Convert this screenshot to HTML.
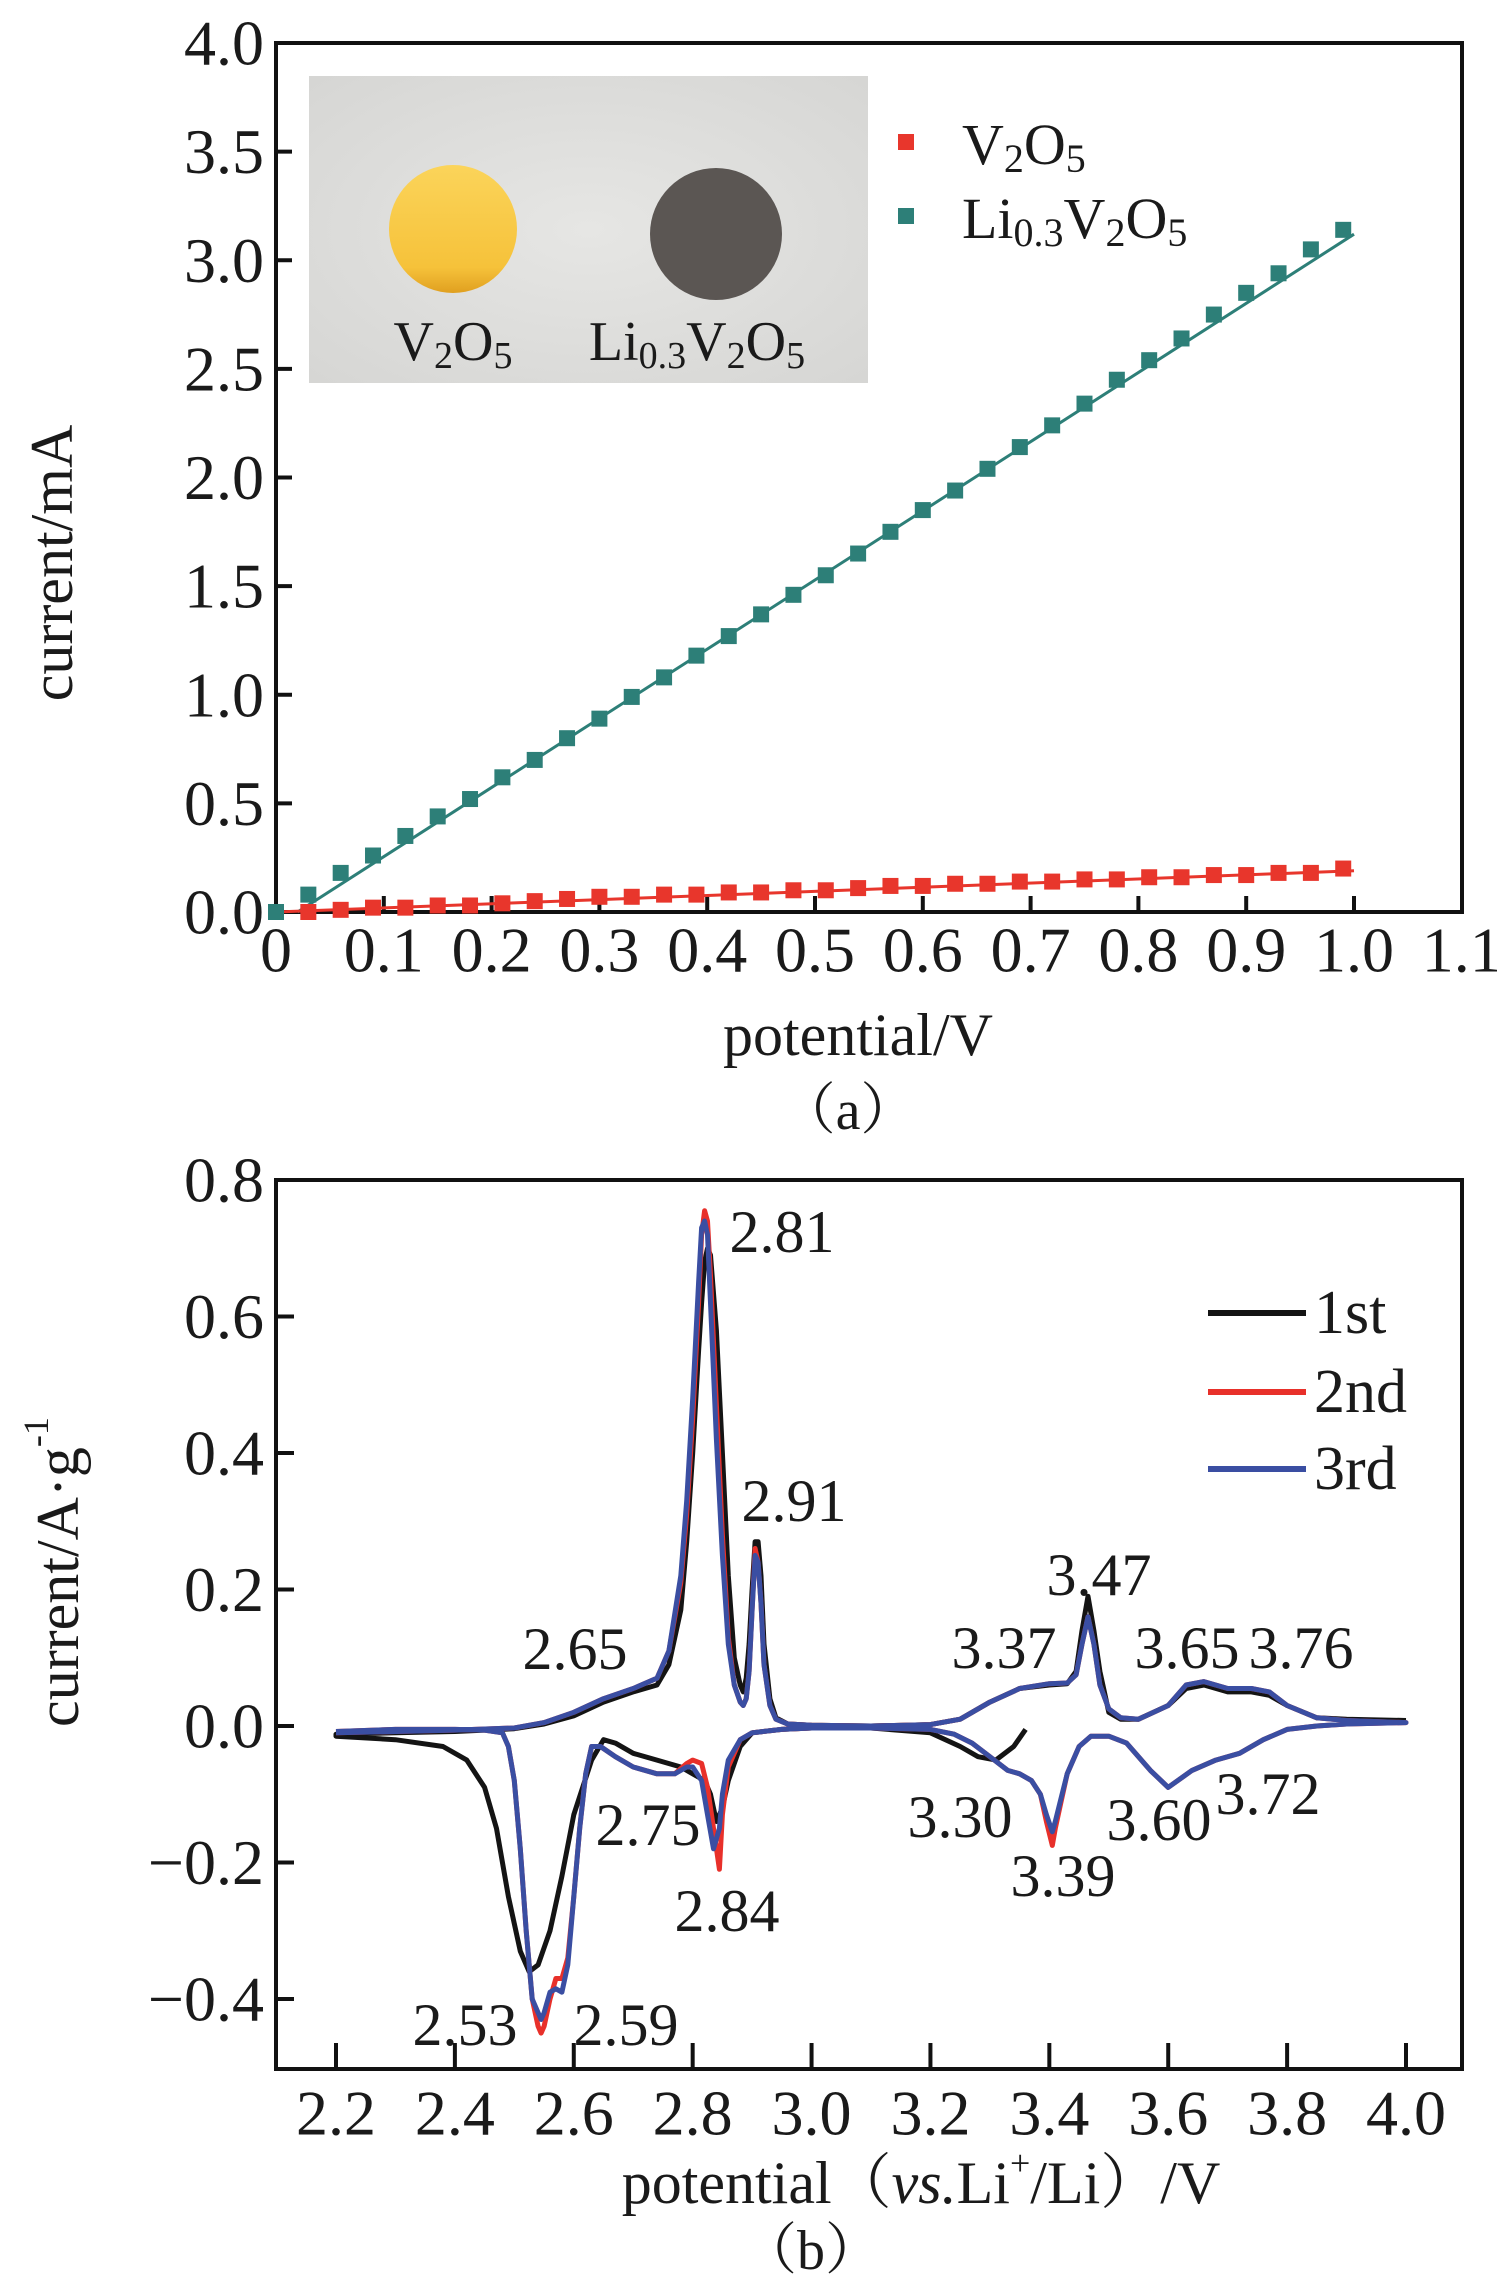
<!DOCTYPE html>
<html><head><meta charset="utf-8">
<style>
html,body{margin:0;padding:0;background:#fff;}
svg{display:block;font-family:"Liberation Serif","Noto Serif CJK SC",serif;}
</style></head>
<body>
<svg id="fig" width="1497" height="2286" viewBox="0 0 1497 2286" xmlns="http://www.w3.org/2000/svg">
  <rect width="1497" height="2286" fill="#fff"/>
  <g id="panelA"></g>
  <g id="panelB"></g>
</svg>
<script>
// ---------- Panel (a) data ----------
const aPotential = [0,0.03,0.06,0.09,0.12,0.15,0.18,0.21,0.24,0.27,0.30,0.33,0.36,0.39,0.42,0.45,0.48,0.51,0.54,0.57,0.60,0.63,0.66,0.69,0.72,0.75,0.78,0.81,0.84,0.87,0.90,0.93,0.96,0.99];
const aLiV2O5 = [0.0,0.08,0.18,0.26,0.35,0.44,0.52,0.62,0.70,0.80,0.89,0.99,1.08,1.18,1.27,1.37,1.46,1.55,1.65,1.75,1.85,1.94,2.04,2.14,2.24,2.34,2.45,2.54,2.64,2.75,2.85,2.94,3.05,3.14];
const aV2O5 = [0.0,0.0,0.01,0.02,0.02,0.03,0.03,0.04,0.05,0.06,0.07,0.07,0.08,0.08,0.09,0.09,0.10,0.10,0.11,0.12,0.12,0.13,0.13,0.14,0.14,0.15,0.15,0.16,0.16,0.17,0.17,0.18,0.18,0.20];
const aFitLi = [[0.02,0.0],[1.0,3.12]];
const aFitV = [[0.0,0.0],[1.0,0.19]];
const aXTicks = [0,0.1,0.2,0.3,0.4,0.5,0.6,0.7,0.8,0.9,1.0,1.1];
const aXTickLabels = ["0","0.1","0.2","0.3","0.4","0.5","0.6","0.7","0.8","0.9","1.0","1.1"];
const aYTicks = [0,0.5,1.0,1.5,2.0,2.5,3.0,3.5,4.0];
const aYTickLabels = ["0.0","0.5","1.0","1.5","2.0","2.5","3.0","3.5","4.0"];

// ---------- Panel (b) data ----------
const bAnX = [2.2,2.3,2.4,2.5,2.55,2.6,2.65,2.7,2.74,2.76,2.78,2.79,2.80,2.81,2.815,2.82,2.825,2.83,2.84,2.85,2.86,2.87,2.88,2.885,2.89,2.895,2.90,2.905,2.91,2.915,2.92,2.93,2.94,2.96,3.0,3.1,3.2,3.25,3.3,3.35,3.4,3.43,3.445,3.455,3.465,3.475,3.485,3.5,3.52,3.55,3.6,3.63,3.66,3.7,3.74,3.77,3.8,3.85,3.9,4.0];
const bAn3rd = [-0.01,-0.008,-0.006,-0.003,0.005,0.02,0.04,0.055,0.07,0.11,0.22,0.33,0.48,0.65,0.73,0.74,0.72,0.62,0.42,0.25,0.12,0.06,0.035,0.03,0.04,0.08,0.17,0.25,0.24,0.18,0.09,0.03,0.01,0.003,0.001,0.0,0.002,0.01,0.035,0.055,0.062,0.063,0.075,0.12,0.16,0.12,0.06,0.025,0.012,0.01,0.03,0.06,0.065,0.055,0.055,0.05,0.03,0.012,0.008,0.005];
const bAn2nd = [-0.01,-0.008,-0.006,-0.003,0.005,0.02,0.04,0.055,0.07,0.11,0.21,0.31,0.45,0.62,0.72,0.755,0.74,0.66,0.47,0.28,0.13,0.06,0.035,0.03,0.04,0.08,0.17,0.26,0.24,0.18,0.09,0.03,0.01,0.003,0.001,0.0,0.002,0.01,0.035,0.055,0.062,0.063,0.075,0.12,0.16,0.12,0.06,0.025,0.012,0.01,0.03,0.06,0.065,0.055,0.055,0.05,0.03,0.012,0.008,0.005];
const bAn1st = [-0.012,-0.01,-0.008,-0.004,0.003,0.015,0.035,0.05,0.06,0.09,0.17,0.27,0.40,0.55,0.62,0.68,0.70,0.69,0.58,0.40,0.22,0.10,0.06,0.05,0.07,0.12,0.20,0.27,0.27,0.22,0.12,0.04,0.012,0.003,0.001,0.0,0.002,0.01,0.035,0.055,0.06,0.062,0.08,0.14,0.19,0.14,0.08,0.02,0.01,0.01,0.03,0.055,0.06,0.05,0.05,0.045,0.03,0.012,0.01,0.008];
const bCaX = [4.0,3.9,3.85,3.8,3.76,3.72,3.68,3.64,3.6,3.57,3.53,3.5,3.47,3.45,3.43,3.42,3.41,3.405,3.395,3.385,3.37,3.35,3.33,3.3,3.27,3.24,3.2,3.1,3.0,2.95,2.9,2.88,2.86,2.85,2.845,2.835,2.825,2.815,2.8,2.79,2.77,2.74,2.7,2.67,2.645,2.63,2.62,2.61,2.60,2.59,2.58,2.57,2.56,2.55,2.545,2.54,2.53,2.52,2.51,2.50,2.49,2.48,2.45,2.4,2.3,2.2];
const bCa3rd = [0.005,0.003,0.0,-0.005,-0.02,-0.04,-0.05,-0.065,-0.09,-0.065,-0.025,-0.015,-0.015,-0.03,-0.07,-0.105,-0.14,-0.155,-0.13,-0.1,-0.08,-0.07,-0.065,-0.045,-0.025,-0.012,-0.005,-0.003,-0.003,-0.005,-0.01,-0.02,-0.05,-0.1,-0.15,-0.18,-0.13,-0.08,-0.06,-0.06,-0.07,-0.07,-0.06,-0.045,-0.03,-0.03,-0.07,-0.15,-0.25,-0.35,-0.39,-0.385,-0.39,-0.42,-0.43,-0.42,-0.40,-0.30,-0.18,-0.08,-0.03,-0.01,-0.006,-0.005,-0.005,-0.008];
const bCa2nd = [0.005,0.003,0.0,-0.005,-0.02,-0.04,-0.05,-0.065,-0.09,-0.065,-0.025,-0.015,-0.015,-0.03,-0.07,-0.11,-0.15,-0.175,-0.14,-0.1,-0.08,-0.07,-0.065,-0.045,-0.025,-0.012,-0.005,-0.003,-0.003,-0.005,-0.01,-0.02,-0.06,-0.13,-0.21,-0.15,-0.09,-0.055,-0.05,-0.055,-0.07,-0.07,-0.06,-0.045,-0.03,-0.03,-0.07,-0.15,-0.25,-0.34,-0.37,-0.37,-0.40,-0.44,-0.45,-0.44,-0.40,-0.30,-0.18,-0.08,-0.03,-0.01,-0.006,-0.005,-0.005,-0.008];
const bCa1X = [3.36,3.34,3.31,3.28,3.25,3.2,3.1,3.0,2.95,2.9,2.88,2.86,2.85,2.84,2.83,2.82,2.8,2.78,2.74,2.7,2.67,2.65,2.63,2.6,2.58,2.56,2.54,2.525,2.51,2.49,2.47,2.45,2.42,2.38,2.3,2.2];
const bCa1st = [-0.005,-0.03,-0.05,-0.045,-0.03,-0.01,-0.003,-0.003,-0.005,-0.01,-0.03,-0.08,-0.12,-0.14,-0.10,-0.08,-0.07,-0.06,-0.05,-0.04,-0.025,-0.02,-0.05,-0.13,-0.22,-0.30,-0.35,-0.36,-0.33,-0.25,-0.15,-0.09,-0.05,-0.03,-0.02,-0.015];
const bXTicks = [2.2,2.4,2.6,2.8,3.0,3.2,3.4,3.6,3.8,4.0];
const bXTickLabels = ["2.2","2.4","2.6","2.8","3.0","3.2","3.4","3.6","3.8","4.0"];
const bYTicks = [-0.4,-0.2,0.0,0.2,0.4,0.6,0.8];
const bYTickLabels = ["\u22120.4","\u22120.2","0.0","0.2","0.4","0.6","0.8"];
const bPeakLabels = ["2.81","2.91","2.65","2.75","2.84","2.53","2.59","3.47","3.37","3.65","3.76","3.30","3.39","3.60","3.72"];
const bPeakX = [2.81,2.91,2.65,2.75,2.84,2.53,2.59,3.47,3.37,3.65,3.76,3.30,3.39,3.60,3.72];

const NS = "http://www.w3.org/2000/svg";
function mk(tag, attrs, parent){
  const e = document.createElementNS(NS, tag);
  for (const k in attrs) e.setAttribute(k, attrs[k]);
  parent.appendChild(e);
  return e;
}
function txt(parent, s, x, y, size, anchor){
  const t = mk('text', {x:x, y:y, 'font-size':size, 'text-anchor':anchor||'middle', 'dominant-baseline':'central', fill:'#1a1a1a'}, parent);
  t.textContent = s;
  return t;
}

// ======== Panel (a) ========
const A = document.getElementById('panelA');
const aL=276, aR=1462, aT=43, aB=912;
const ax = v => aL + v*(1078.0/1.0)*1.0; // 0..1 -> 1078px approx (107.8 per 0.1)
const axF = v => aL + v*1078;
const ay = v => aB - (v/4.0)*(aB-aT);

// inset photo
const inset = mk('g', {}, A);


mk('defs', {}, inset).innerHTML = '<linearGradient id="yel" x1="0" y1="0" x2="0" y2="1"><stop offset="0" stop-color="#fbd45a"/><stop offset="0.8" stop-color="#f6c23a"/><stop offset="1" stop-color="#e0a020"/></linearGradient><radialGradient id="bg" cx="0.5" cy="0.5" r="0.7"><stop offset="0" stop-color="#e6e6e4"/><stop offset="1" stop-color="#d6d6d4"/></radialGradient>';
mk('rect', {x:309, y:76, width:559, height:307, fill:'url(#bg)'}, inset);
const disc1 = mk('ellipse', {cx:453, cy:229, rx:64, ry:64, fill:'url(#yel)'}, inset);


const disc2 = mk('ellipse', {cx:716, cy:234, rx:66, ry:66, fill:'#5b5653'}, inset);


const il1 = mk('text', {x:453, y:360, 'font-size':56, 'text-anchor':'middle', fill:'#1a1a1a'}, inset);
il1.innerHTML = 'V<tspan font-size="38" dy="8">2</tspan><tspan dy="-8">O</tspan><tspan font-size="38" dy="8">5</tspan>';


const il2 = mk('text', {x:697, y:360, 'font-size':56, 'text-anchor':'middle', fill:'#1a1a1a'}, inset);
il2.innerHTML = 'Li<tspan font-size="38" dy="8">0.3</tspan><tspan dy="-8">V</tspan><tspan font-size="38" dy="8">2</tspan><tspan dy="-8">O</tspan><tspan font-size="38" dy="8">5</tspan>';



// axes box
const boxA = mk('rect', {x:aL, y:aT, width:aR-aL, height:aB-aT, fill:'none', stroke:'#111', 'stroke-width':4}, A);


aXTicks.forEach((v,i)=>{
  const X = axF(v);
  if (i>0 && X < aR-3) mk('line', {x1:X, y1:aB, x2:X, y2:aB-16, stroke:'#111', 'stroke-width':4}, A);
  const t = txt(A, aXTickLabels[i], X, 950, 64);
  
  
});
aYTicks.forEach((v,i)=>{
  const Y = ay(v);
  if (i>0 && i<aYTicks.length-1) mk('line', {x1:aL, y1:Y, x2:aL+16, y2:Y, stroke:'#111', 'stroke-width':4}, A);
  const t = txt(A, aYTickLabels[i], 264, Y, 64, 'end');
  
  
});
const aYT = txt(A, 'current/mA', 0, 0, 60);
aYT.setAttribute('transform', 'translate(52,563) rotate(-90)');


const aXT = txt(A, 'potential/V', 858, 1035, 60);


const aCap = txt(A, '\uFF08a\uFF09', 848, 1111, 56);



// fit lines and markers
const TEAL='#2d7f78', RED='#e8362c';
const fl1 = mk('line', {x1:axF(aFitLi[0][0]), y1:ay(aFitLi[0][1]), x2:axF(aFitLi[1][0]), y2:ay(aFitLi[1][1]), stroke:TEAL, 'stroke-width':3}, A);


const fl2 = mk('line', {x1:axF(aFitV[0][0]), y1:ay(aFitV[0][1]), x2:axF(aFitV[1][0]), y2:ay(aFitV[1][1]), stroke:RED, 'stroke-width':3}, A);


const ms = 16;
aPotential.forEach((p,i)=>{
  const r = mk('rect', {x:axF(p)-ms/2, y:ay(aV2O5[i])-ms/2, width:ms, height:ms, fill:RED}, A);
  
  
});
aPotential.forEach((p,i)=>{
  const r = mk('rect', {x:axF(p)-ms/2, y:ay(aLiV2O5[i])-ms/2, width:ms, height:ms, fill:TEAL}, A);
  
  
});
// legend a
const lgA1 = mk('rect', {x:898, y:134, width:16, height:16, fill:RED}, A);


const lgA2 = mk('rect', {x:898, y:208, width:16, height:16, fill:TEAL}, A);


const lt1 = mk('text', {x:962, y:164, 'font-size':58, fill:'#1a1a1a'}, A);
lt1.innerHTML = 'V<tspan font-size="40" dy="8">2</tspan><tspan dy="-8">O</tspan><tspan font-size="40" dy="8">5</tspan>';


const lt2 = mk('text', {x:962, y:238, 'font-size':58, fill:'#1a1a1a'}, A);
lt2.innerHTML = 'Li<tspan font-size="40" dy="8">0.3</tspan><tspan dy="-8">V</tspan><tspan font-size="40" dy="8">2</tspan><tspan dy="-8">O</tspan><tspan font-size="40" dy="8">5</tspan>';



// ======== Panel (b) ========
const B = document.getElementById('panelB');
const bL=276, bR=1462, bT=1180, bB=2069;
const bx = v => 336 + (v-2.2)*(1070/1.8);
const by = v => 1726 - v*(546/0.8);

const boxB = mk('rect', {x:bL, y:bT, width:bR-bL, height:bB-bT, fill:'none', stroke:'#111', 'stroke-width':4}, B);


bXTicks.forEach((v,i)=>{
  const X = bx(v);
  mk('line', {x1:X, y1:bB, x2:X, y2:bB-26, stroke:'#111', 'stroke-width':4}, B);
  const t = txt(B, bXTickLabels[i], X, 2113, 64);
  
  
});
bYTicks.forEach((v,i)=>{
  const Y = by(v);
  if (v < 0.79) mk('line', {x1:bL, y1:Y, x2:bL+18, y2:Y, stroke:'#111', 'stroke-width':4}, B);
  const t = txt(B, bYTickLabels[i], 264, Y, 64, 'end');
  
  
});
const bYT = mk('text', {x:0, y:0, 'font-size':60, 'text-anchor':'middle', 'dominant-baseline':'central', fill:'#1a1a1a', transform:'translate(58,1572) rotate(-90)'}, B);
bYT.innerHTML = 'current/A\u00B7g<tspan font-size="36" dy="-22">-1</tspan>';


const bXT = mk('text', {x:921, y:2183, 'font-size':60, 'text-anchor':'middle', 'dominant-baseline':'central', fill:'#1a1a1a'}, B);
bXT.innerHTML = 'potential\uFF08<tspan font-style="italic">vs.</tspan>Li<tspan font-size="36" dy="-20">+</tspan><tspan dy="20">/Li\uFF09/V</tspan>';


const bCap = txt(B, '\uFF08b\uFF09', 811, 2251, 56);



function pathOf(xs, ys){
  return xs.map((x,i)=>(i?'L':'M')+bx(x).toFixed(1)+','+by(ys[i]).toFixed(1)).join(' ');
}
const BLACK='#141414', CRED='#e8302a', BLUE='#3a4ea2';
const c1 = mk('path', {d:pathOf(bCa1X,bCa1st)+' '+pathOf(bAnX,bAn1st).replace('M','L'), fill:'none', stroke:BLACK, 'stroke-width':5, 'stroke-linejoin':'round'}, B);


const c2 = mk('path', {d:pathOf(bAnX,bAn2nd)+' '+pathOf(bCaX,bCa2nd).replace('M','L'), fill:'none', stroke:CRED, 'stroke-width':5, 'stroke-linejoin':'round'}, B);


const c3 = mk('path', {d:pathOf(bAnX,bAn3rd)+' '+pathOf(bCaX,bCa3rd).replace('M','L'), fill:'none', stroke:BLUE, 'stroke-width':5, 'stroke-linejoin':'round'}, B);



// peak annotations (label positions in pixels)
const peakPos = [[782,1232],[794,1501],[575,1649],[648,1825],[727,1911],[465,2025],[626,2025],[1099,1575],[1004,1648],[1187,1648],[1301,1648],[960,1817],[1063,1876],[1159,1820],[1268,1794]];
bPeakLabels.forEach((s,i)=>{
  const t = txt(B, s, peakPos[i][0], peakPos[i][1], 60);
  
  
});

// legend b
const legNames = ['1st','2nd','3rd'];
const legCols = [BLACK, CRED, BLUE];
const legY = [1313,1392,1469];
legNames.forEach((n,i)=>{
  const l = mk('line', {x1:1208, y1:legY[i], x2:1306, y2:legY[i], stroke:legCols[i], 'stroke-width':6}, B);
  
  
  const t = txt(B, n, 1314, legY[i], 62, 'start');
  
  
});
</script>
</body></html>
